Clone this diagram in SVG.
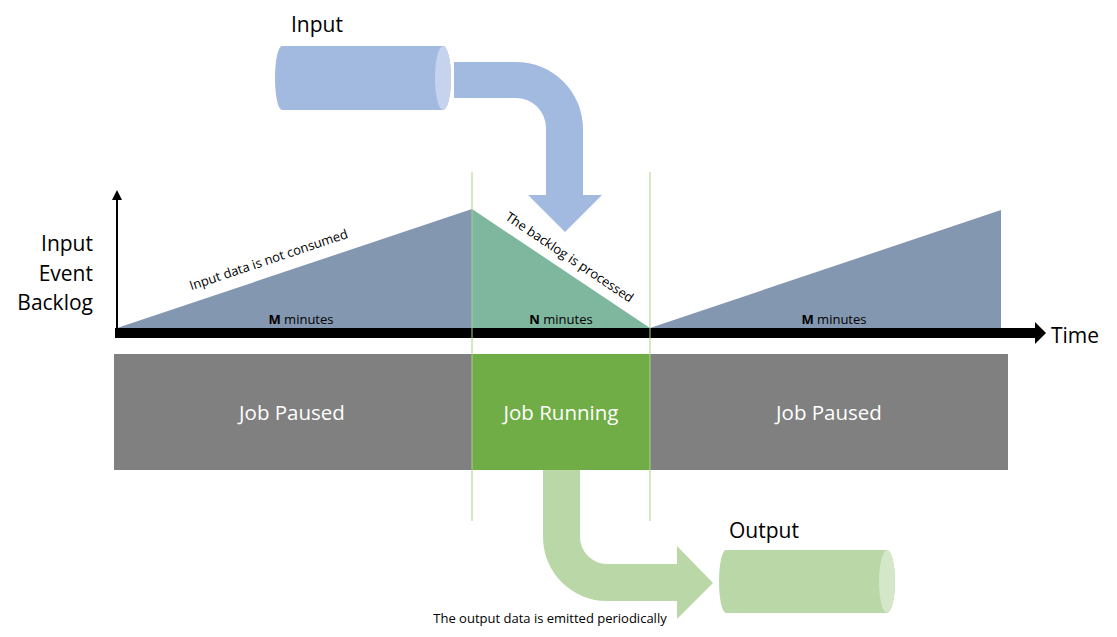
<svg xmlns="http://www.w3.org/2000/svg" width="1117" height="637" viewBox="0 0 1117 637">
<style>
.t{font-family:"Open Sans","Liberation Sans",sans-serif;fill:#000}
.big{font-size:21px}
.sm{font-size:13px}
.w{fill:#fff;font-size:20.5px;text-anchor:middle}
.vl{stroke:#A9D18E;stroke-width:1}
</style>
<rect width="1117" height="637" fill="#fff"/>
<g id="chart">
<polygon points="117,328 472,209 472,328" fill="#8497B0"/>
<polygon points="472,209 650,328 472,328" fill="#7FB69E"/>
<polygon points="650,328 1001,210 1001,328" fill="#8497B0"/>
</g>
<g id="axes">
<line x1="117" y1="330" x2="117" y2="198" stroke="#000" stroke-width="2"/>
<polygon points="117,190 112,200 122,200" fill="#000"/>
<rect x="115" y="328" width="922" height="10" fill="#000"/>
<polygon points="1035,322 1046,333 1035,344" fill="#000"/>
</g>
<g id="bars">
<rect x="114" y="354" width="894" height="116" fill="#808080"/>
<rect x="472" y="354" width="178" height="116" fill="#70AD47"/>
<text class="t w" x="292" y="420">Job Paused</text>
<text class="t w" x="561" y="420">Job Running</text>
<text class="t w" x="829" y="420">Job Paused</text>
</g>
<g id="connectors">
<path d="M454,62 H516 A67,67 0 0 1 583,129 V195 H602 L565,232 L528,195 H546 V128 A30,30 0 0 0 516,98 H454 Z" fill="#A2B9E0"/>
<path d="M543,470 H580 V537 A27,27 0 0 0 607,564 H677 V546 L713,583 L677,619 V601 H607 A64,64 0 0 1 543,537 Z" fill="#B9D7A7"/>
</g>
<g id="dividers">
<line class="vl" x1="472" y1="172" x2="472" y2="521"/>
<line class="vl" x1="650" y1="172" x2="650" y2="521"/>
</g>
<g id="input">
<path d="M282,46 H443 A8,32 0 0 1 443,110 H282 A7,32 0 0 1 282,46 Z" fill="#A2B9E0"/>
<ellipse cx="443" cy="78" rx="8" ry="32" fill="#C5D3ED"/>
<text class="t big" x="291" y="32">Input</text>
</g>
<g id="output">
<path d="M726,550 H887 A8,31.5 0 0 1 887,613 H726 A7,31.5 0 0 1 726,550 Z" fill="#B9D7A7"/>
<ellipse cx="887" cy="581.5" rx="8" ry="31.5" fill="#D4E7C9"/>
<text class="t big" x="729" y="538">Output</text>
</g>
<g id="labels">
<text class="t big" text-anchor="end" x="93" y="251">Input</text>
<text class="t big" text-anchor="end" x="93" y="281">Event</text>
<text class="t big" text-anchor="end" x="93" y="310">Backlog</text>
<text class="t big" x="1051" y="343">Time</text>
<text class="t sm" text-anchor="middle" x="301" y="324"><tspan font-weight="bold">M</tspan> minutes</text>
<text class="t sm" text-anchor="middle" x="561" y="324"><tspan font-weight="bold">N</tspan> minutes</text>
<text class="t sm" text-anchor="middle" x="834" y="324"><tspan font-weight="bold">M</tspan> minutes</text>
<text class="t sm" text-anchor="middle" transform="translate(270,264) rotate(-18.5)">Input data is not consumed</text>
<text class="t sm" text-anchor="middle" transform="translate(567,261) rotate(33.8)">The backlog is processed</text>
<text class="t sm" text-anchor="middle" x="550" y="623">The output data is emitted periodically</text>
</g>
</svg>
